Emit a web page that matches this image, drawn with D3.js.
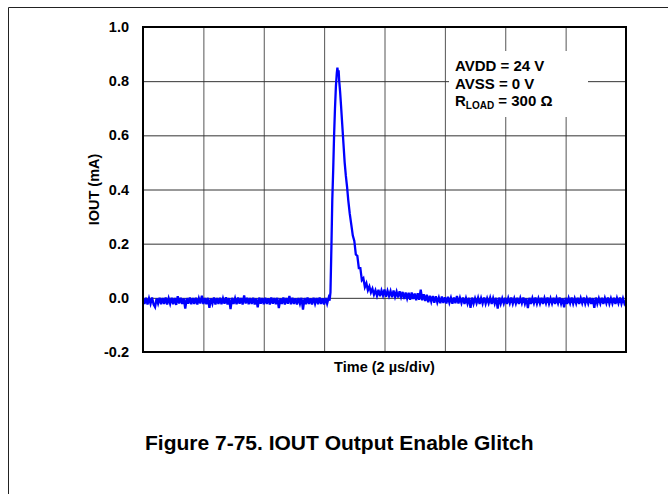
<!DOCTYPE html>
<html>
<head>
<meta charset="utf-8">
<script src="https://cdn.jsdelivr.net/npm/d3@7/dist/d3.min.js"></script>
<style>
  html, body { margin: 0; padding: 0; background: #fff; }
  svg { display: block; font-family: "Liberation Sans", Arial, sans-serif; }
</style>
</head>
<body>
<svg id="chart" width="668" height="494"></svg>
<script>
// ---- Data (IOUT in mA, time in µs; 2 µs/div, 8 divisions) ----
const xDivisions = [0, 2, 4, 6, 8, 10, 12, 14, 16];
const yTicks = [-0.2, 0.0, 0.2, 0.4, 0.6, 0.8, 1.0];
const yTickLabels = ["-0.2", "0.0", "0.2", "0.4", "0.6", "0.8", "1.0"];

// baseline before the glitch, sampled every 0.05 µs from t = 0
const preStart = 0, preStep = 0.05;
const preValues = [
  -0.001,-0.023,0.000,-0.025,-0.002,-0.022,0.001,-0.024,-0.034,-0.002,
  -0.021,0.000,-0.024,-0.001,-0.023,0.001,-0.025,-0.002,-0.022,0.000,
  -0.024,-0.001,-0.026,0.006,-0.021,0.000,-0.023,-0.002,-0.040,-0.001,
  -0.022,0.001,-0.024,-0.001,-0.023,0.000,-0.025,-0.002,-0.021,0.008,
  -0.023,-0.001,-0.024,0.000,-0.037,-0.002,-0.022,0.001,-0.025,-0.001,
  -0.023,0.000,-0.024,-0.002,-0.022,0.002,-0.025,-0.001,-0.042,0.000,
  -0.023,-0.002,-0.024,0.001,-0.022,-0.001,-0.025,0.009,-0.021,0.000,
  -0.024,-0.001,-0.023,0.000,-0.025,-0.002,-0.035,0.001,-0.022,-0.001,
  -0.024,0.000,-0.023,-0.002,-0.025,0.001,-0.022,-0.001,-0.024,0.000,
  -0.038,-0.002,-0.023,0.001,-0.025,-0.001,-0.022,0.007,-0.024,0.000,
  -0.023,-0.002,-0.025,-0.001,-0.022,0.000,-0.043,-0.001,-0.024,0.001,
  -0.023,-0.002,-0.025,0.000,-0.022,-0.001,-0.024,0.001,-0.023,-0.002,
  -0.025,-0.001,-0.022,0.000
];

// glitch pulse (time µs, IOUT mA)
const glitchTimes = [
  6.18, 6.21, 6.24, 6.27, 6.30, 6.33, 6.36, 6.39, 6.42, 6.44, 6.46, 6.48,
  6.50, 6.53, 6.56, 6.60, 6.64, 6.68, 6.72, 6.76, 6.80, 6.85, 6.90, 6.95,
  7.00, 7.05, 7.10, 7.15, 7.20, 7.25, 7.30, 7.35, 7.40, 7.45, 7.50, 7.55,
  7.60, 7.65
];
const glitchValues = [
  -0.010, 0.02, 0.18, 0.36, 0.47, 0.60, 0.70, 0.78, 0.83, 0.85, 0.83, 0.84,
  0.80, 0.76, 0.71, 0.64, 0.57, 0.50, 0.45, 0.41, 0.36, 0.31, 0.27, 0.23,
  0.210, 0.160, 0.155, 0.110, 0.110, 0.065, 0.072, 0.040, 0.054, 0.028, 0.042, 0.020,
  0.034, 0.012
];

// settling / baseline after the glitch, sampled every 0.05 µs from t = 7.70
const postStart = 7.70, postStep = 0.05;
const postValues = [
  0.028,0.008,0.030,0.006,0.027,0.009,0.031,0.004,0.026,0.007,
  0.025,0.002,0.027,0.004,0.023,0.001,0.024,0.003,0.022,-0.004,
  0.020,-0.002,0.019,-0.007,0.020,-0.004,0.016,-0.009,0.017,-0.007,
  0.030,-0.009,0.013,-0.012,0.011,-0.016,0.008,-0.014,0.007,-0.018,
  0.006,-0.017,0.001,-0.020,0.005,-0.019,0.002,-0.021,0.004,-0.018,
  0.000,-0.022,0.001,-0.020,0.007,-0.021,0.000,-0.019,0.001,-0.023,
  -0.001,-0.021,0.000,-0.037,0.001,-0.022,-0.002,-0.020,0.000,-0.023,
  -0.001,-0.021,0.001,-0.022,-0.002,-0.020,0.000,-0.023,-0.001,-0.021,
  0.000,-0.040,0.001,-0.022,-0.002,-0.021,0.000,-0.023,-0.001,-0.020,
  0.001,-0.022,-0.002,-0.021,0.000,-0.023,-0.001,-0.020,0.001,-0.022,
  -0.002,-0.038,0.000,-0.023,-0.001,-0.020,0.001,-0.022,-0.002,-0.021,
  0.000,-0.023,-0.001,-0.020,0.001,-0.022,-0.002,-0.021,0.000,-0.023,
  -0.001,-0.020,0.001,-0.022,-0.002,-0.035,0.000,-0.023,-0.001,-0.020,
  0.001,-0.022,-0.002,-0.021,0.000,-0.023,-0.001,-0.020,0.001,-0.022,
  -0.002,-0.021,0.000,-0.023,-0.001,-0.037,0.001,-0.022,-0.002,-0.021,
  0.000,-0.023,-0.001,-0.020,0.001,-0.022,-0.002,-0.021,0.000,-0.023,
  -0.001,-0.020,0.001,-0.022,-0.002,-0.021,-0.010
];

const annotationLines = ["AVDD = 24 V", "AVSS = 0 V"];
const xTitle = "Time (2 µs/div)";
const yTitle = "IOUT (mA)";
const caption = "Figure 7-75. IOUT Output Enable Glitch";

// ---- Build trace ----
const trace = [];
preValues.forEach((v, i) => trace.push([preStart + i * preStep, v]));
glitchTimes.forEach((t, i) => trace.push([t, glitchValues[i]]));
postValues.forEach((v, i) => trace.push([postStart + i * postStep, v]));

// ---- Layout ----
const svg = d3.select("#chart");
const plot = { left: 143, right: 626, top: 27, bottom: 352 };
const x = d3.scaleLinear().domain([0, 16]).range([plot.left, plot.right]);
const y = d3.scaleLinear().domain([-0.2, 1.0]).range([plot.bottom, plot.top]);

// outer frame (top and left edges)
svg.append("path")
  .attr("d", "M8.5,494 V7.5 H668")
  .attr("fill", "none").attr("stroke", "#222").attr("stroke-width", 1);

// vertical gridlines
const gx = svg.append("g")
  .attr("transform", `translate(0,${plot.bottom})`)
  .call(d3.axisBottom(x).tickValues(xDivisions).tickSize(-(plot.bottom - plot.top)).tickFormat(""));
gx.select(".domain").remove();
gx.selectAll("line").attr("stroke", "#555").attr("stroke-width", 1);

// horizontal gridlines + labels
const gy = svg.append("g")
  .attr("transform", `translate(${plot.left},0)`)
  .call(d3.axisLeft(y).tickValues(yTicks).tickSize(-(plot.right - plot.left))
        .tickPadding(14).tickFormat((d, i) => yTickLabels[i]));
gy.select(".domain").remove();
gy.selectAll("line").attr("stroke", "#333").attr("stroke-width", 1);
gy.selectAll("text")
  .attr("fill", "#000").attr("font-size", 14.5).attr("font-weight", "bold")
  .attr("font-family", "'Liberation Sans', Arial, sans-serif");

// annotation box (white background blanking gridlines)
svg.append("rect")
  .attr("x", 449).attr("y", 51).attr("width", 139).attr("height", 66)
  .attr("fill", "#fff");

const ann = svg.append("g")
  .attr("font-size", 15).attr("font-weight", "bold").attr("fill", "#000");
annotationLines.forEach((s, i) => {
  ann.append("text").attr("x", 455).attr("y", 71 + i * 17.5).text(s);
});
const rl = ann.append("text").attr("x", 455).attr("y", 106);
rl.append("tspan").text("R");
rl.append("tspan").attr("font-size", 10).attr("dy", 3).text("LOAD");
rl.append("tspan").attr("dy", -3).text(" = 300 Ω");

// trace
svg.append("defs").append("clipPath").attr("id", "clip")
  .append("rect").attr("x", plot.left).attr("y", plot.top)
  .attr("width", plot.right - plot.left).attr("height", plot.bottom - plot.top);

svg.append("path")
  .datum(trace)
  .attr("clip-path", "url(#clip)")
  .attr("fill", "none")
  .attr("stroke", "#0000ff")
  .attr("stroke-width", 2.3)
  .attr("stroke-linejoin", "miter")
  .attr("d", d3.line().x(d => x(d[0])).y(d => y(d[1])));

// plot frame
svg.append("rect")
  .attr("x", plot.left).attr("y", plot.top)
  .attr("width", plot.right - plot.left).attr("height", plot.bottom - plot.top)
  .attr("fill", "none").attr("stroke", "#000").attr("stroke-width", 2);

// axis titles
svg.append("text")
  .attr("x", (plot.left + plot.right) / 2).attr("y", 372)
  .attr("text-anchor", "middle").attr("font-size", 14.5).attr("font-weight", "bold")
  .text(xTitle);

svg.append("text")
  .attr("transform", `translate(98.5,${(plot.top + plot.bottom) / 2}) rotate(-90)`)
  .attr("text-anchor", "middle").attr("font-size", 14.5).attr("font-weight", "bold")
  .text(yTitle);

// caption
svg.append("text")
  .attr("x", 145).attr("y", 450)
  .attr("font-size", 21).attr("font-weight", "bold")
  .text(caption);
</script>
</body>
</html>
